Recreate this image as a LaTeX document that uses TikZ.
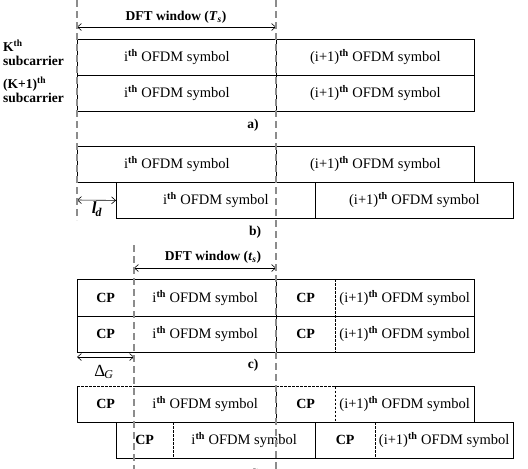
\documentclass[tikz,border=0pt]{standalone}
\usepackage{fontspec}
\setmainfont{Liberation Serif}
\usetikzlibrary{arrows.meta}
\newcommand{\mysup}{\textsuperscript{\textbf{th}}}
\begin{document}
\begin{tikzpicture}[x=1pt,y=-1pt,
  cell/.style={rectangle, inner sep=0pt, minimum height=36pt, anchor=north west, font=\fontsize{14.5}{16}\selectfont},
  box/.style={cell, draw=black, line width=0.8pt},
  edge/.style={draw=black, line width=0.8pt},
  win/.style={draw=black!45, line width=2.6pt, dash pattern=on 7pt off 4pt},
  sep/.style={draw=black, line width=0.8pt, dash pattern=on 2.5pt off 1.5pt},
  dim/.style={draw=black, line width=0.6pt, {Straight Barb[length=4pt,width=7pt]}-{Straight Barb[length=4pt,width=7pt]}},
  lbl/.style={font=\bfseries\fontsize{13.5}{15}\selectfont, inner sep=0pt},
  cp/.style={font=\bfseries\fontsize{14}{16}\selectfont},
]
\useasboundingbox (0,0) rectangle (528,469);

% ---------- a) ----------
\node[lbl, anchor=west, align=left] (k1) at (3,53) {K\mysup\\[-1pt]subcarrier};
\node[lbl, anchor=west, align=left] (k2) at (3,90) {(K+1)\mysup\\[-1pt]subcarrier};
\node[box, minimum width=199pt] (a1) at (77,39) {i\mysup\ OFDM symbol};
\node[box, minimum width=198pt] (a2) at (276,39) {(i+1)\mysup\ OFDM symbol};
\node[box, minimum width=199pt] (a3) at (77,75) {i\mysup\ OFDM symbol};
\node[box, minimum width=198pt] (a4) at (276,75) {(i+1)\mysup\ OFDM symbol};
\node[lbl] (wina) at (176,17) {DFT window (\textit{T}\textsubscript{\textit{s}})};
\coordinate (wa1) at (77,27); \coordinate (wa2) at (276,27);
\draw[dim] (wa1) -- (wa2);
\node[lbl] (la) at (253,125) {a)};

% ---------- b) ----------
\node[box, minimum width=199pt] (b1) at (77,146) {i\mysup\ OFDM symbol};
\node[box, minimum width=198pt] (b2) at (276,146) {(i+1)\mysup\ OFDM symbol};
\node[box, minimum width=199pt] (b3) at (116,182) {i\mysup\ OFDM symbol};
\node[box, minimum width=198pt] (b4) at (315,182) {(i+1)\mysup\ OFDM symbol};
\coordinate (ld1) at (77,200);
\draw[dim] (ld1) -- (b3.west);
\node[inner sep=0pt, font=\bfseries\itshape\fontsize{17}{17}\selectfont] (ld) at (97,209) {l\kern-1pt\textsubscript{d}};
\node[lbl] (lb) at (255,232) {b)};

% ---------- c) ----------
\node[cell, cp, minimum width=57pt, minimum height=37pt] (c1a) at (77,279) {CP};
\node[cell, minimum width=142pt, minimum height=37pt] (c1b) at (134,279) {i\mysup\ OFDM symbol};
\node[cell, cp, minimum width=59pt, minimum height=37pt] (c1c) at (276,279) {CP};
\node[cell, minimum width=139pt, minimum height=37pt] (c1d) at (335,279) {(i+1)\mysup\ OFDM symbol};
\node[cell, cp, minimum width=57pt] (c2a) at (77,316) {CP};
\node[cell, minimum width=142pt] (c2b) at (134,316) {i\mysup\ OFDM symbol};
\node[cell, cp, minimum width=59pt] (c2c) at (276,316) {CP};
\node[cell, minimum width=139pt] (c2d) at (335,316) {(i+1)\mysup\ OFDM symbol};
\draw[edge] (c1a.north west) rectangle (c2b.south east);
\draw[edge] (c1a.south west) -- (c1b.south east);
\draw[edge] (c1c.north west) rectangle (c2d.south east);
\draw[edge] (c1c.south west) -- (c1d.south east);
\draw[sep] (c1d.north west) -- (c2d.south west);
\node[lbl] (winc) at (213,257) {DFT window (\textit{t}\textsubscript{\textit{s}})};
\coordinate (wc1) at (134,268); \coordinate (wc2) at (276,268);
\draw[dim] (wc1) -- (wc2);
\coordinate (dg1) at (77,357); \coordinate (dg2) at (134,357);
\draw[dim] (dg1) -- (dg2);
\node[inner sep=0pt, font=\fontsize{17}{17}\selectfont] (dg) at (104,372) {Δ\kern-1pt\textsubscript{\textit{G}}};
\node[lbl] (lc) at (253,365) {c)};

% ---------- d) ----------
\node[cell, cp, minimum width=57pt] (d1a) at (77,386) {CP};
\node[cell, minimum width=142pt] (d1b) at (134,386) {i\mysup\ OFDM symbol};
\node[cell, cp, minimum width=59pt] (d1c) at (276,386) {CP};
\node[cell, minimum width=139pt] (d1d) at (335,386) {(i+1)\mysup\ OFDM symbol};
\draw[edge] (d1b.north west) -- (d1b.north east) -- (d1b.south east) -- (d1a.south west) -- (d1a.north west);
\draw[sep] (d1a.north west) -- (d1a.north east);
\draw[sep] (d1c.north west) -- (d1c.north east) -- (d1c.south east);
\draw[edge] (d1c.south west) -- (d1d.south east) -- (d1d.north east) -- (d1d.north west);
\node[cell, cp, minimum width=57pt] (d2a) at (116,422) {CP};
\node[cell, minimum width=142pt] (d2b) at (173,422) {i\mysup\ OFDM symbol};
\node[cell, cp, minimum width=60pt] (d2c) at (315,422) {CP};
\node[cell, minimum width=138pt] (d2d) at (375,422) {(i+1)\mysup\ OFDM symbol};
\draw[edge] (d2a.north west) rectangle (d2b.south east);
\draw[sep] (d2b.north west) -- (d2b.south west);
\draw[edge] (d2c.north west) rectangle (d2d.south east);
\draw[sep] (d2d.north west) -- (d2d.south west);
\node[lbl] (ldd) at (255,475) {d)};

% ---------- DFT window boundaries ----------
\coordinate (La) at (77,0);   \coordinate (Lb) at (77,220);
\coordinate (Ra) at (276,0);  \coordinate (Rb) at (276,469);
\coordinate (Ma) at (134,245); \coordinate (Mb) at (134,469);
\draw[win] (La) -- (Lb);
\draw[win] (Ra) -- (Rb);
\draw[win] (Ma) -- (Mb);
\end{tikzpicture}
\end{document}
